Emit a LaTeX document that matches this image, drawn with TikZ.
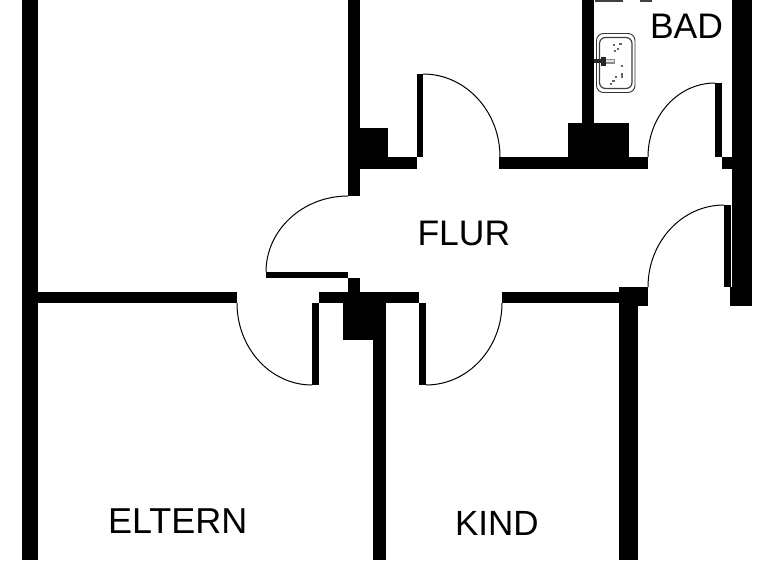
\documentclass[tikz,border=0pt]{standalone}
\usepackage{fontspec}
\setmainfont{Liberation Sans}
\newcommand{\wallrect}[4]{\fill[black] (#1,#2) rectangle (#3,#4);}
\newcommand{\doorarc}[4]{\draw[swing] ({#1},{#2+(#4)}) .. controls ({#1+.5523*(#3)},{#2+(#4)}) and ({#1+(#3)},{#2+.5523*(#4)}) .. ({#1+(#3)},{#2});}
\tikzset{
  swing/.style={draw=black,line width=1pt},
  roomlabel/.style={anchor=base west,inner sep=0pt,outer sep=0pt,text=black,font=\fontsize{35.5}{40}\selectfont},
}
\begin{document}
\begin{tikzpicture}[x=1pt,y=-1pt]
\useasboundingbox (0,0) rectangle (768,560);
\fill[white] (0,0) rectangle (768,560);
% outer and room walls
\wallrect{22}{0}{38}{560}
\wallrect{348}{0}{360}{196}
\wallrect{360}{128}{388}{169}
\wallrect{360}{157}{417}{169}
\wallrect{499}{157}{648}{169}
\wallrect{568}{123}{629}{169}
\wallrect{582}{0}{594}{123}
\wallrect{732}{0}{752}{306}
\wallrect{722}{157}{732}{169}
\wallrect{730}{287}{752}{306}
\wallrect{38}{292}{237}{303}
\wallrect{319}{292}{419}{303}
\wallrect{348}{278}{360}{292}
\wallrect{343}{303}{386}{340}
\wallrect{373}{340}{386}{560}
\wallrect{502}{292}{619}{303}
\wallrect{619}{287}{648}{306}
\wallrect{619}{306}{638}{560}
% door leaves
\wallrect{417}{74}{423}{157}
\wallrect{715}{83}{722}{157}
\wallrect{724}{205}{731}{287}
\wallrect{266}{272}{348}{278}
\wallrect{312}{303}{319}{385}
\wallrect{419}{303}{426}{385}
% door swings
\doorarc{423}{157}{77}{-83}
\doorarc{715}{157}{-67}{-74}
\doorarc{724}{287}{-76}{-82}
\doorarc{348}{272}{-82}{-76}
\doorarc{312}{303}{-75}{82}
\doorarc{426}{303}{76}{82}
% sink
\draw[black!80,line width=0.9pt,rounded corners=7pt] (596.5,33.5) rectangle (635,92.5);
\draw[black!75,line width=1.2pt,rounded corners=6pt] (599.5,37.5) rectangle (632,88.5);
\fill[black!45] (604,58.5) rectangle (614.5,63.5);
\fill[black!12] (606,60) rectangle (613.5,62);
\fill[black!85] (594,59) rectangle (606,62.5);
\fill[black!85] (601,57) rectangle (606,66);
\fill[black!60] (613,44) rectangle (615,46);
\fill[black!60] (619,43) rectangle (622,45);
\fill[black!60] (617,48) rectangle (619,50);
\fill[black!60] (614,50) rectangle (616,52);
\fill[black!60] (621,65) rectangle (623,67);
\fill[black!60] (621,73) rectangle (623,78);
\fill[black!60] (615,76) rectangle (617,78);
\fill[black!60] (612,80) rectangle (615,82);
\fill[black!60] (610,83) rectangle (612,85);
% fixture edge at top
\fill[black!75] (595,0) rectangle (623,1.5);
\fill[black!75] (640,0) rectangle (652,1.5);
% labels
\node[roomlabel] (bad) at (650,38) {BAD};
\node[roomlabel] (flur) at (417.5,245) {FLUR};
\node[roomlabel,font=\fontsize{36}{40}\selectfont] (eltern) at (108,533) {ELTERN};
\node[roomlabel,font=\fontsize{35}{40}\selectfont] (kind) at (455,535) {KIND};
\end{tikzpicture}
\end{document}
